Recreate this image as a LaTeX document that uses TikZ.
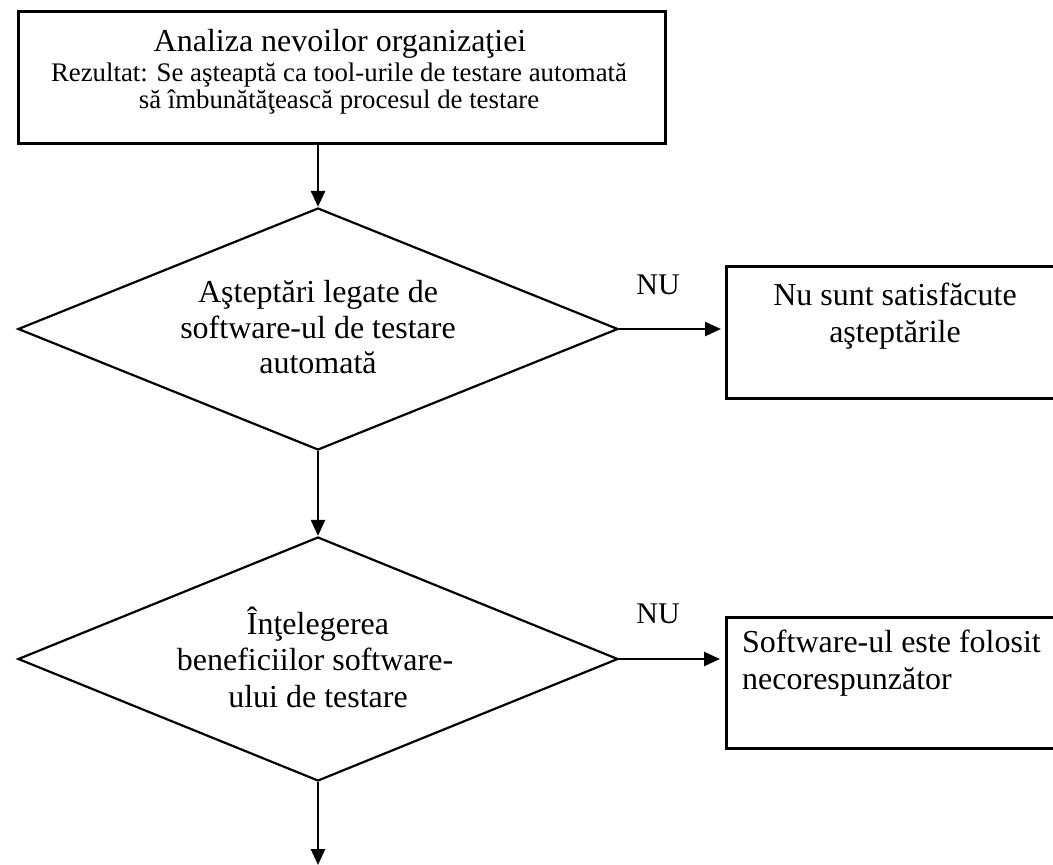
\documentclass[tikz,border=0pt]{standalone}
\usepackage{fontspec}
\setmainfont{Liberation Serif}
\usetikzlibrary{arrows.meta,shapes.geometric}
\begin{document}
\begin{tikzpicture}[x=1pt,y=-1pt,
  boxframe/.style={draw,black,line width=2.8pt},
  decision/.style={draw,black,shape=diamond,inner sep=0pt,line width=2.2pt},
  flowarrow/.style={-{Triangle[length=16pt,width=14pt]},line width=2.6pt},
  bigline/.style={font=\fontsize{32}{36}\selectfont,inner sep=0pt,anchor=base},
  smallline/.style={font=\fontsize{26.8}{30}\selectfont,inner sep=0pt,anchor=base},
  nulabel/.style={font=\fontsize{30}{34}\selectfont,inner sep=0pt,anchor=base}]
\clip (0,0) rectangle (1053,865);
\fill[white] (0,0) rectangle (1053,865);

% start box
\node[boxframe,minimum width=647pt,minimum height=132pt,inner sep=0pt,anchor=north west] (b1) at (17,10) {};
\node[bigline] (t1) at (340,51) {Analiza nevoilor organizaţiei};
\node[smallline] (t2) at (339,81) {Rezultat: Se aşteaptă ca tool-urile de testare automată};
\node[smallline] (t3) at (339,108) {să îmbunătăţească procesul de testare};

% first decision
\node[decision,minimum width=600pt,minimum height=242pt] (d1) at (318,329) {};
\node[bigline] (d1a) at (318,302) {Aşteptări legate de};
\node[bigline] (d1b) at (318,338) {software-ul de testare};
\node[bigline] (d1c) at (318,373) {automată};

% second decision
\node[decision,minimum width=600pt,minimum height=244pt] (d2) at (318,659) {};
\node[bigline] (d2a) at (318,634) {Înţelegerea};
\node[bigline] (d2b) at (315,670) {beneficiilor software-};
\node[bigline] (d2c) at (318,707) {ului de testare};

% outcome boxes, running past the right border
\node[boxframe,minimum width=334pt,minimum height=132pt,inner sep=0pt,anchor=north west] (o1) at (725,265) {};
\node[bigline] (o1a) at (895,305) {Nu sunt satisfăcute};
\node[bigline] (o1b) at (895,342) {aşteptările};

\node[boxframe,minimum width=334pt,minimum height=131pt,inner sep=0pt,anchor=north west] (o2) at (725,616) {};
\node[bigline,anchor=base west] (o2a) at (742,652) {Software-ul este folosit};
\node[bigline,anchor=base west] (o2b) at (742,689) {necorespunzător};

% connectors
\coordinate (endpt) at (318,865);
\draw[flowarrow] (b1.south -| d1.north) -- (d1.north);
\draw[flowarrow] (d1.south) -- (d2.north);
\draw[flowarrow] (d2.south) -- (endpt);
\draw[flowarrow,shorten >=4pt] (d1.east) -- (o1.west |- d1.east);
\draw[flowarrow,shorten >=5pt] (d2.east) -- (o2.west |- d2.east);

% branch labels
\node[nulabel] (n1) at (658,294) {NU};
\node[nulabel] (n2) at (658,623) {NU};
\end{tikzpicture}
\end{document}
